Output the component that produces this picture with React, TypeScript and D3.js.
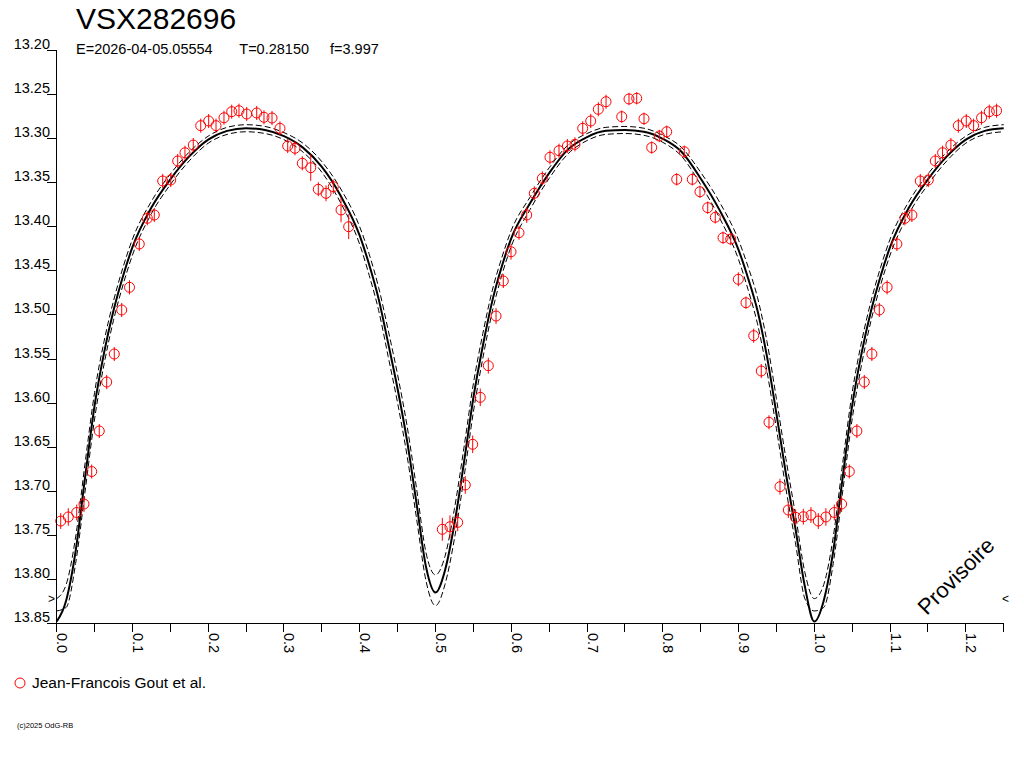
import React from "react";
import * as d3 from "d3";

const TITLE = "VSX282696";
const SUB_E = "E=2026-04-05.05554";
const SUB_T = "T=0.28150";
const SUB_F = "f=3.997";
const LEGEND = "Jean-Francois Gout et al.";
const COPYRIGHT = "(c)2025 OdG-RB";
const WATERMARK = "Provisoire";

const Y_TICKS = [13.2, 13.25, 13.3, 13.35, 13.4, 13.45, 13.5, 13.55, 13.6, 13.65, 13.7, 13.75, 13.8, 13.85];
const X_MINOR = [0, 0.05, 0.1, 0.15, 0.2, 0.25, 0.3, 0.35, 0.4, 0.45, 0.5, 0.55, 0.6, 0.65, 0.7, 0.75, 0.8, 0.85, 0.9, 0.95, 1.0, 1.05, 1.1, 1.15, 1.2, 1.25];
const X_LABELS = [0, 0.1, 0.2, 0.3, 0.4, 0.5, 0.6, 0.7, 0.8, 0.9, 1.0, 1.1, 1.2];

// observations: phase, magnitude, error
const OBS_PHASE = [
  0.0053, 0.0153, 0.0264, 0.036, 0.0462, 0.0562, 0.066, 0.076, 0.0858, 0.0961,
  0.109, 0.1196, 0.1288, 0.1399, 0.1505, 0.1597, 0.1693, 0.1803, 0.1901, 0.2006,
  0.2103, 0.2208, 0.231, 0.2406, 0.2508, 0.264, 0.2736, 0.2842, 0.2947, 0.3049,
  0.3145, 0.3242, 0.3353, 0.3453, 0.3555, 0.3651, 0.3753, 0.3854,
  0.509, 0.5191, 0.5293, 0.5393, 0.5491, 0.5591, 0.5697, 0.5799, 0.5895, 0.5997,
  0.6102, 0.6204, 0.6304, 0.641, 0.6511, 0.663, 0.674, 0.6841, 0.6943, 0.7049,
  0.7149, 0.7251, 0.7458, 0.7554, 0.7656, 0.7752, 0.7854, 0.7954, 0.8052, 0.8184,
  0.8284, 0.839, 0.8491, 0.8593, 0.8693, 0.8795, 0.8897, 0.8997, 0.9098, 0.92,
  0.93, 0.9402, 0.9547, 0.9657, 0.9754, 0.9855, 0.9956,
];
const OBS_MAG = [
  13.7339, 13.7293, 13.7242, 13.7146, 13.6777, 13.6317, 13.5761, 13.5443, 13.4943, 13.4686,
  13.4194, 13.3903, 13.3865, 13.3479, 13.3468, 13.3252, 13.3158, 13.3071, 13.2851, 13.2798,
  13.2851, 13.2761, 13.2692, 13.2681, 13.2719, 13.2707, 13.2756, 13.2764, 13.2881, 13.3082,
  13.3108, 13.3278, 13.3328, 13.3573, 13.3619, 13.3544, 13.3808, 13.3998,
  13.7433, 13.7404, 13.7354, 13.693, 13.6468, 13.5935, 13.5576, 13.5012, 13.4614, 13.4282,
  13.4066, 13.3865, 13.3619, 13.3449, 13.321, 13.3135, 13.3082, 13.3063, 13.2881, 13.2798,
  13.2665, 13.2579, 13.2749, 13.2548, 13.254, 13.2772, 13.3099, 13.2968, 13.292, 13.346,
  13.3147, 13.346, 13.3601, 13.3782, 13.3891, 13.4123, 13.4138, 13.4595, 13.4861, 13.5235,
  13.5636, 13.6218, 13.6949, 13.7214, 13.7297, 13.729, 13.7271,
];
const OBS_ERR = [
  0.009, 0.01, 0.009, 0.009, 0.008, 0.008, 0.008, 0.008, 0.008, 0.008,
  0.008, 0.008, 0.008, 0.008, 0.008, 0.008, 0.008, 0.008, 0.008, 0.008,
  0.008, 0.008, 0.008, 0.008, 0.008, 0.008, 0.008, 0.008, 0.008, 0.008,
  0.008, 0.008, 0.015, 0.008, 0.009, 0.008, 0.014, 0.014,
  0.013, 0.013, 0.01, 0.01, 0.01, 0.01, 0.009, 0.009, 0.008, 0.009,
  0.008, 0.009, 0.008, 0.008, 0.008, 0.008, 0.008, 0.008, 0.008, 0.008,
  0.008, 0.008, 0.007, 0.007, 0.007, 0.007, 0.007, 0.007, 0.007, 0.007,
  0.007, 0.007, 0.007, 0.007, 0.007, 0.007, 0.007, 0.008, 0.007, 0.008,
  0.008, 0.008, 0.009, 0.009, 0.009, 0.009, 0.009,
];

// fitted light curve (solid) and its two dashed envelopes
const MODEL_PHASE = [
  0, 0.0125, 0.025, 0.0375, 0.05, 0.0625, 0.075, 0.0875, 0.1, 0.125,
  0.15, 0.175, 0.2, 0.225, 0.25, 0.275, 0.3, 0.325, 0.35, 0.375,
  0.4, 0.4125, 0.425, 0.4375, 0.45, 0.4625, 0.475, 0.4875, 0.5, 0.5125,
  0.525, 0.5375, 0.55, 0.5625, 0.575, 0.5875, 0.6, 0.625, 0.65, 0.675,
  0.7, 0.725, 0.75, 0.775, 0.8, 0.825, 0.85, 0.875, 0.9, 0.9125,
  0.925, 0.9375, 0.95, 0.9625, 0.975, 0.9875, 1.0,
];
const MODEL_MAG = [
  13.848, 13.824, 13.768, 13.684, 13.603, 13.543, 13.495, 13.456, 13.423, 13.378,
  13.346, 13.32, 13.301, 13.291, 13.288, 13.29, 13.297, 13.31, 13.332, 13.365,
  13.41, 13.443, 13.482, 13.532, 13.584, 13.643, 13.714, 13.786, 13.815, 13.79,
  13.737, 13.668, 13.594, 13.535, 13.484, 13.445, 13.413, 13.373, 13.339, 13.312,
  13.298, 13.291, 13.29, 13.292, 13.3, 13.315, 13.345, 13.381, 13.426, 13.458,
  13.495, 13.547, 13.612, 13.68, 13.742, 13.808, 13.848,
];
const MODEL_HI = [
  13.822, 13.806, 13.752, 13.668, 13.588, 13.53, 13.484, 13.446, 13.414, 13.371,
  13.34, 13.315, 13.297, 13.287, 13.284, 13.286, 13.293, 13.305, 13.326, 13.357,
  13.4, 13.431, 13.469, 13.517, 13.568, 13.626, 13.697, 13.77, 13.795, 13.774,
  13.72, 13.651, 13.578, 13.521, 13.472, 13.435, 13.404, 13.366, 13.333, 13.307,
  13.294, 13.287, 13.286, 13.288, 13.296, 13.31, 13.338, 13.372, 13.415, 13.445,
  13.48, 13.53, 13.595, 13.663, 13.726, 13.792, 13.822,
];
const MODEL_LO = [
  13.836, 13.832, 13.782, 13.7, 13.618, 13.556, 13.506, 13.466, 13.432, 13.385,
  13.352, 13.325, 13.305, 13.295, 13.292, 13.294, 13.301, 13.315, 13.338, 13.373,
  13.42, 13.455, 13.495, 13.547, 13.6, 13.66, 13.731, 13.802, 13.83, 13.806,
  13.754, 13.685, 13.61, 13.549, 13.496, 13.455, 13.422, 13.38, 13.345, 13.317,
  13.302, 13.295, 13.294, 13.296, 13.304, 13.32, 13.352, 13.39, 13.437, 13.471,
  13.51, 13.564, 13.629, 13.697, 13.758, 13.822, 13.836,
];

const FONT = "'Liberation Sans', Arial, Helvetica, sans-serif";

export default function App() {
  const x = d3.scaleLinear().domain([0, 1.25]).range([56.7, 1003.7]);
  const y = d3.scaleLinear().domain([13.2, 13.85]).range([50.7, 623.3]);

  // repeat the first quarter of the cycle after phase 1
  const extend = (mags: number[]) => {
    const pts: [number, number][] = MODEL_PHASE.map((p, i) => [p, mags[i]]);
    MODEL_PHASE.forEach((p, i) => {
      if (p > 0 && p <= 0.25) pts.push([p + 1, mags[i]]);
    });
    return pts;
  };
  const line = d3
    .line<[number, number]>()
    .x((d) => x(d[0]))
    .y((d) => y(d[1]))
    .curve(d3.curveMonotoneX);

  const obs: { p: number; m: number; e: number }[] = [];
  OBS_PHASE.forEach((p, i) => {
    obs.push({ p, m: OBS_MAG[i], e: OBS_ERR[i] });
    if (p + 1 <= 1.25) obs.push({ p: p + 1, m: OBS_MAG[i], e: OBS_ERR[i] });
  });

  const axisY0 = y(13.85);
  const fmt = d3.format(".2f");
  const fmtX = d3.format(".1f");

  return (
    <svg
      width={1024}
      height={768}
      style={{ position: "absolute", left: 0, top: 0, background: "#fff", display: "block" }}
      fontFamily={FONT}
    >
      <rect x={0} y={0} width={1024} height={768} fill="#fff" />
      {/* title */}
      <text x={76} y={28.5} fontSize={30} fill="#000">
        {TITLE}
      </text>
      <text x={76} y={54} fontSize={14.5} fill="#000">
        {SUB_E}
      </text>
      <text x={239.3} y={54} fontSize={14.5} fill="#000">
        {SUB_T}
      </text>
      <text x={330} y={54} fontSize={14.5} fill="#000">
        {SUB_F}
      </text>

      {/* model curves */}
      <path d={line(extend(MODEL_HI)) || ""} fill="none" stroke="#000" strokeWidth={1} strokeDasharray="6,3" />
      <path d={line(extend(MODEL_LO)) || ""} fill="none" stroke="#000" strokeWidth={1} strokeDasharray="6,3" />
      <path d={line(extend(MODEL_MAG)) || ""} fill="none" stroke="#000" strokeWidth={2} />

      {/* observations */}
      {obs.map((o, i) => (
        <g key={i}>
          <line x1={x(o.p)} x2={x(o.p)} y1={y(o.m - o.e)} y2={y(o.m + o.e)} stroke="#ff0000" strokeWidth={1} />
          <circle cx={x(o.p)} cy={y(o.m)} r={5} fill="none" stroke="#ff0000" strokeWidth={1} />
        </g>
      ))}

      {/* y axis */}
      <line x1={56.5} x2={56.5} y1={y(13.2)} y2={axisY0} stroke="#000" strokeWidth={1} shapeRendering="crispEdges" />
      {Y_TICKS.map((t) => (
        <g key={t}>
          <line x1={46.5} x2={56.5} y1={y(t)} y2={y(t)} stroke="#000" strokeWidth={1} shapeRendering="crispEdges" />
          <text x={50} y={y(t) - 1.5} fontSize={14.5} textAnchor="end" fill="#000">
            {fmt(t)}
          </text>
        </g>
      ))}

      {/* x axis */}
      <line x1={56.5} x2={x(1.25)} y1={axisY0} y2={axisY0} stroke="#000" strokeWidth={1} shapeRendering="crispEdges" />
      {X_MINOR.map((t) => (
        <line key={t} x1={x(t)} x2={x(t)} y1={axisY0} y2={axisY0 + 9} stroke="#000" strokeWidth={1} shapeRendering="crispEdges" />
      ))}
      {X_LABELS.map((t) => (
        <text key={t} transform={`translate(${x(t) + 0.5},${633}) rotate(90)`} fontSize={14.5} fill="#000">
          {fmtX(t)}
        </text>
      ))}

      {/* markers */}
      <text x={48} y={603} fontSize={12} fill="#000">
        {">"}
      </text>
      <text x={1002} y={603} fontSize={12} fill="#000">
        {"<"}
      </text>

      {/* watermark */}
      <text
        transform="translate(956,576) rotate(-45)"
        fontSize={22}
        textAnchor="middle"
        dominantBaseline="central"
        fill="#000"
      >
        {WATERMARK}
      </text>

      {/* legend */}
      <circle cx={20} cy={683} r={5} fill="none" stroke="#ff0000" strokeWidth={1} />
      <text x={32} y={688.3} fontSize={15.5} fill="#000">
        {LEGEND}
      </text>
      <text x={17} y={727.5} fontSize={7.5} fill="#000">
        {COPYRIGHT}
      </text>
    </svg>
  );
}
